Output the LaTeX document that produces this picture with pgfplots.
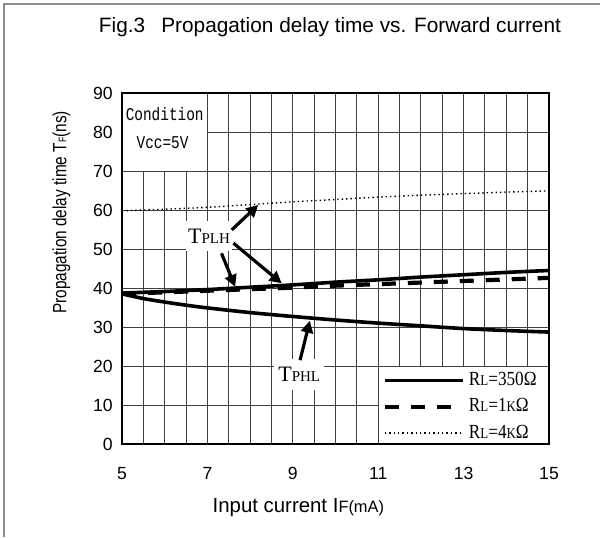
\documentclass[border=0pt]{standalone}
\usepackage{pgfplots}
\pgfplotsset{compat=1.18}
\usepackage{fontspec}
\setmainfont{Liberation Sans}
\newfontfamily\serif{Liberation Serif}
\newfontfamily\mono{Liberation Mono}
\usetikzlibrary{arrows.meta}

\pgfplotstableread{
x   y
5   59.8
6   60.2
7   60.7
8   61.4
9   62.1
10  62.7
11  63.3
12  63.8
13  64.2
14  64.6
15  64.9
}\rlfour

\pgfplotstableread{
x   y
5   38.7
6   39.1
7   39.6
8   40.2
9   40.8
10  41.5
11  42.1
12  42.8
13  43.4
14  44.0
15  44.5
}\rlthreefifty

\pgfplotstableread{
x   y
5   38.5
6   38.9
7   39.3
8   39.7
9   40.1
10  40.6
11  41.0
12  41.4
13  41.8
14  42.2
15  42.6
}\rlone

\pgfplotstableread{
x    y
5    38.5
5.5  37.3
6    36.4
6.5  35.6
7    34.9
8    33.7
9    32.7
10   31.8
11   31.0
12   30.3
13   29.6
14   29.1
15   28.7
}\tphl

\tikzset{gridline/.style={black!75, line width=0.5pt}}
\newcommand{\leg}[1]{\scalebox{0.86}[1]{#1}}

\begin{document}
\begin{tikzpicture}
\useasboundingbox (0,0) rectangle (300pt,268.5pt);
\draw[black!45, line width=1pt] (2pt,0) -- (2pt,266.5pt) -- (300pt,266.5pt);
\begin{axis}[
  at={(61pt,46.5pt)}, anchor=south west,
  scale only axis, width=213.5pt, height=175.5pt,
  xmin=5, xmax=15, ymin=0, ymax=90,
  xtick={5,7,...,15}, ytick={0,10,...,90},
  minor xtick={5.5,6,...,14.5},
  grid=both,
  major grid style={gridline},
  minor grid style={gridline},
  major tick length=0pt, minor tick length=0pt,
  axis line style={black, line width=0.6pt},
  /pgf/number format/assume math mode=true,
  ticklabel style={font=\fontsize{8.8}{10}\selectfont},
  every y tick label/.append style={inner xsep=0pt, xshift=-4.5pt},
  every x tick label/.append style={inner ysep=0pt, yshift=-11.5pt},
  xlabel={Input current I{\fontsize{8.2}{9}\selectfont F(mA)}},
  xlabel style={at={(axis description cs:0.413,-0.182)}, anchor=center, font=\fontsize{10.2}{11}\selectfont},
  ylabel={\scalebox{0.8}[1]{Propagation delay time T{\fontsize{5.5}{6}\selectfont F}(ns)}},
  ylabel style={at={(axis description cs:-0.142,0.66)}, anchor=center, font=\fontsize{9.6}{10}\selectfont},
  title={Fig.3\hspace{0.5em} Propagation delay time vs. Forward current},
  title style={at={(axis description cs:0.487,1.1396)}, anchor=base, font=\fontsize{10.4}{12}\selectfont},
  legend style={at={(axis cs:15,0)}, anchor=south east, draw=none, fill=none, yshift=-1.5pt,
    font=\serif\fontsize{10}{10}\selectfont, row sep=1pt, inner xsep=4pt, inner ysep=0.8pt},
  legend cell align=left,
  legend image code/.code={\draw[#1] (-1pt,0pt) -- (38pt,0pt);},
]
% white boxes
\fill[white] (axis cs:5,70) rectangle (axis cs:7,90);
\draw[gridline] (axis cs:5,70) -- (axis cs:7,70) -- (axis cs:7,90);
\fill[white] (axis cs:11,0) rectangle (axis cs:15,20);
\draw[gridline] (axis cs:11,0) -- (axis cs:11,20) -- (axis cs:15,20);
\draw[black, line width=0.6pt] (rel axis cs:0,0) rectangle (rel axis cs:1,1);

\node[font=\mono\fontsize{9}{10}\selectfont] at (axis cs:6.0,84.7) {\scalebox{0.8}[1]{Condition}};
\node[font=\mono\fontsize{9}{10}\selectfont] at (axis cs:5.95,77.2) {\scalebox{0.8}[1]{Vcc=5V}};

\addplot[black, line width=1.8pt, no marks, smooth] table[x=x,y=y] {\rlthreefifty};
\addlegendentry{\leg{R{\fontsize{7.5}{8}\selectfont L}=350Ω}}
\addplot[black, line width=2.1pt, no marks, smooth, dash pattern=on 7pt off 6pt] table[x=x,y=y] {\rlone};
\addlegendentry{\leg{R{\fontsize{7.5}{8}\selectfont L}=1{\fontsize{7.5}{8}\selectfont K}Ω}}
\addplot[black, line width=0.7pt, no marks, smooth, dash pattern=on 0.7pt off 1.5pt] table[x=x,y=y] {\rlfour};
\addlegendentry{\leg{R{\fontsize{7.5}{8}\selectfont L}=4{\fontsize{7.5}{8}\selectfont K}Ω}}
\addplot[black, line width=1.8pt, no marks, smooth, forget plot] table[x=x,y=y] {\tphl};

% labels
\node[fill=white, inner xsep=1pt, inner ysep=4pt, font=\serif] at (axis cs:7.04,53.3)
  {\fontsize{11}{12}\selectfont T\fontsize{7.5}{9}\selectfont PLH};
\node[fill=white, inner xsep=2pt, inner ysep=4pt, font=\serif] at (axis cs:9.15,17.8)
  {\fontsize{11}{12}\selectfont T\fontsize{7.5}{9}\selectfont PHL};

\draw[black, line width=1.6pt, -{Triangle[length=6pt,width=6pt]}] (axis cs:7.57,54.9) -- (axis cs:8.19,61.3);
\draw[black, line width=1.6pt, -{Triangle[length=6pt,width=6pt]}] (axis cs:7.33,48.9) -- (axis cs:7.65,40.3);
\draw[black, line width=1.6pt, -{Triangle[length=6pt,width=6pt]}] (axis cs:7.61,51.5) -- (axis cs:8.74,41.2);
\draw[black, line width=1.6pt, -{Triangle[length=6pt,width=6pt]}] (axis cs:9.17,21.5) -- (axis cs:9.40,31.6);
\end{axis}
\end{tikzpicture}
\end{document}
